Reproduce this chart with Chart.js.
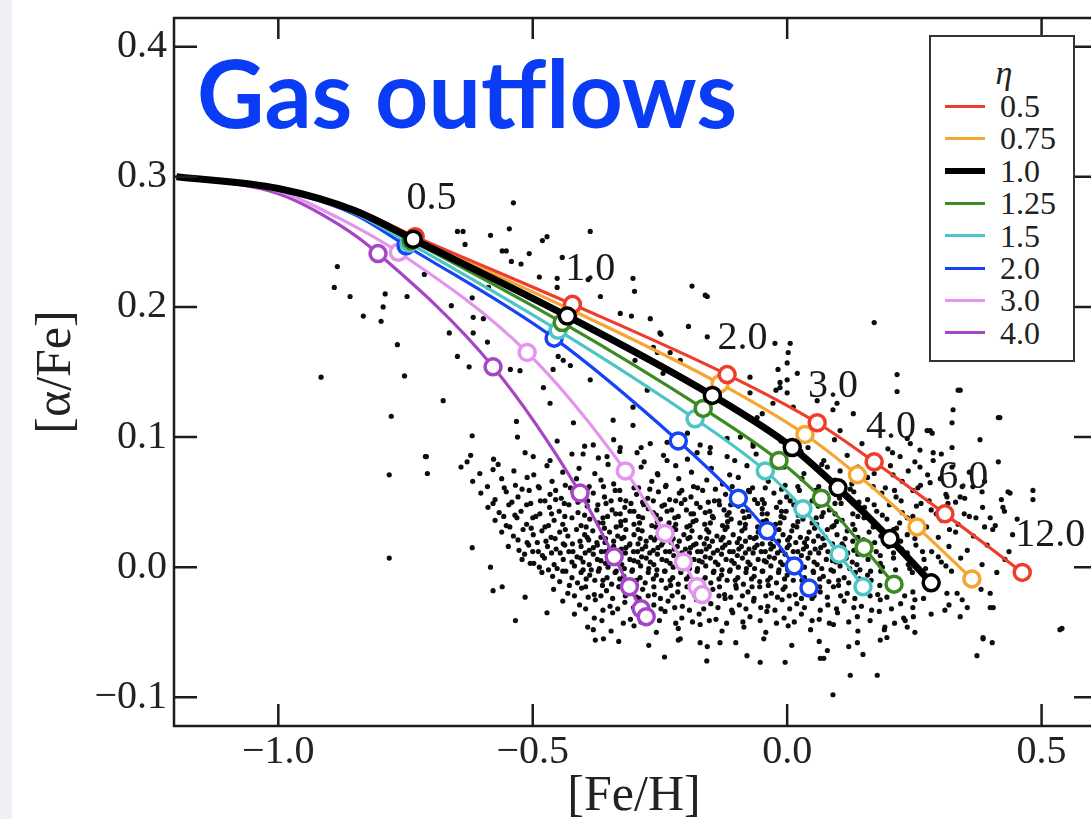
<!DOCTYPE html>
<html lang="en">

<head>
    <meta charset="UTF-8">
    <title>Gas outflows</title>
    <script src="https://cdn.jsdelivr.net/npm/chart.js"></script>
    <style>
        body {
            margin: 0;
            background: #fff;
        }

        .wrap {
            position: relative;
            width: 1091px;
            height: 819px;
            overflow: hidden;
        }

        .strip {
            position: absolute;
            left: 0;
            top: 0;
            width: 12px;
            height: 819px;
            background: #eef0f4;
        }

        canvas {
            position: absolute;
            left: 0;
            top: 0;
        }

        .headline {
            position: absolute;
            left: 197px;
            top: 46px;
            font: 700 93px/92px Lato, sans-serif;
            color: #0a3bf5;
            white-space: nowrap;
        }

        .legend {
            position: absolute;
            left: 929px;
            top: 35px;
            width: 142px;
            height: 323px;
            border: 2px solid #333;
            background: #fff;
            font-family: 'Liberation Serif', 'Times New Roman', serif;
            color: #222;
        }

        .legend .head {
            position: absolute;
            left: 0;
            width: 142px;
            top: 20px;
            padding-left: 2px;
            text-align: center;
            font-style: italic;
            font-size: 34px;
            line-height: 32px;
        }

        .legend .row {
            position: absolute;
            left: 14px;
            height: 30px;
            display: flex;
            align-items: center;
            font-size: 32px;
            line-height: 30px;
        }

        .legend .swatch {
            width: 40px;
            margin-right: 15px;
        }
    </style>
</head>

<body>
    <div class="wrap">
        <div class="strip"></div>
        <canvas id="outflowChart" width="1096" height="819"></canvas>
        <div class="headline">Gas outflows</div>
        <div class="legend" id="legend">
            <div class="head">η</div>
        </div>
    </div>

    <script>
        // outflow efficiencies and their colours
        const etas = ['0.5', '0.75', '1.0', '1.25', '1.5', '2.0', '3.0', '4.0'];
        const etaColors = ['#ef3d2d', '#f5a530', '#000000', '#3c8a22', '#4dc4c6', '#1444f5', '#e395ee', '#a646c7'];

        // ages (Gyr) marked with open circles = last 7 points of every track
        const ages = [0.5, 1, 2, 3, 4, 6, 12];

        // tracks: first points follow the curve from the start, then the age markers
        const fe05 = [-1.2, -1.0, -0.85, -0.731, -0.422, -0.118, 0.059, 0.171, 0.310, 0.462];
        const al05 = [0.300, 0.291, 0.275, 0.254, 0.202, 0.148, 0.111, 0.081, 0.041, -0.004];
        const fe075 = [-1.2, -1.0, -0.85, -0.733, -0.426, -0.132, 0.035, 0.138, 0.255, 0.363];
        const al075 = [0.300, 0.291, 0.274, 0.253, 0.198, 0.141, 0.102, 0.071, 0.031, -0.009];
        const fe10 = [-1.2, -1.0, -0.85, -0.735, -0.432, -0.147, 0.010, 0.100, 0.202, 0.283];
        const al10 = [0.300, 0.291, 0.274, 0.252, 0.193, 0.132, 0.092, 0.061, 0.022, -0.012];
        const fe125 = [-1.2, -1.0, -0.85, -0.739, -0.442, -0.165, -0.016, 0.067, 0.151, 0.210];
        const al125 = [0.300, 0.291, 0.273, 0.251, 0.188, 0.122, 0.082, 0.053, 0.015, -0.013];
        const fe15 = [-1.2, -1.0, -0.85, -0.743, -0.450, -0.181, -0.043, 0.031, 0.102, 0.149];
        const al15 = [0.300, 0.290, 0.272, 0.249, 0.182, 0.114, 0.074, 0.045, 0.010, -0.015];
        const fe20 = [-1.2, -1.0, -0.85, -0.749, -0.458, -0.214, -0.096, -0.039, 0.014, 0.043];
        const al20 = [0.300, 0.290, 0.271, 0.247, 0.176, 0.097, 0.053, 0.028, 0.001, -0.016];
        const fe30 = [-1.2, -1.0, -0.88, -0.764, -0.511, -0.318, -0.240, -0.204, -0.177, -0.167];
        const al30 = [0.300, 0.289, 0.268, 0.242, 0.165, 0.074, 0.026, 0.004, -0.015, -0.021];
        const fe40 = [-1.2, -1.0, -0.88, -0.804, -0.578, -0.407, -0.340, -0.310, -0.287, -0.277];
        const al40 = [0.300, 0.287, 0.263, 0.241, 0.154, 0.057, 0.008, -0.015, -0.032, -0.038];

        const trackFeH = [fe05, fe075, fe10, fe125, fe15, fe20, fe30, fe40];
        const trackAlpha = [al05, al075, al10, al125, al15, al20, al30, al40];

        // age labels along the eta = 0.5 track
        const ageText = ['0.5', '1.0', '2.0', '3.0', '4.0', '6.0', '12.0'];
        const ageFeH = [-0.699, -0.387, -0.088, 0.090, 0.204, 0.346, 0.517];
        const ageAlpha = [0.285, 0.231, 0.178, 0.141, 0.109, 0.071, 0.026];

        const xTicks = [-1.0, -0.5, 0.0, 0.5];
        const yTicks = [-0.1, 0.0, 0.1, 0.2, 0.3, 0.4];

        // observed stars [Fe/H, alpha/Fe]
        const stars = [
            // sparse upper part
            [-.538,.280],[-.648,.258],[-.637,.258],[-.546,.260],[-.583,.255],[-.387,.258],[-.472,.254],[-.481,.251],[-.633,.248],[-.560,.243],
            [-.552,.243],[-.507,.241],[-.542,.235],[-.523,.233],[-.884,.231],[-.713,.225],[-.487,.223],[-.452,.222],[-.890,.215],[-.587,.215],
            [-.859,.208],[-.790,.210],[-.747,.208],[-.619,.207],[-.660,.201],[-.794,.200],[-.833,.193],[-.798,.189],[-.617,.192],[-.597,.191],
            [-.664,.180],[-.617,.180],[-.589,.173],[-.766,.171],[-.648,.162],[-.544,.152],[-.525,.151],[-.625,.154],[-.916,.146],[-.752,.147],
            [-.450,.162],[-.440,.159],[-.426,.155],[-.387,.144],[-.460,.152],[-.479,.138],[-.676,.128],[-.466,.126],[-.778,.116],[-.532,.112],
            [-.420,.111],[-.619,.101],[-.530,.100],[-.381,.094],[-.711,.085],[-.401,.087],[-.354,.085],[-.499,.085],
            [-.303,.222],[-.300,.212],[-.187,.216],[-.157,.208],[-.306,.193],[-.269,.191],[-.248,.179],[-.194,.185],[-.157,.177],[.171,.188],
            [.006,.172],[-.024,.172],[.002,.165],[-.018,.152],[-.073,.146],[.000,.144],[-.022,.136],[.216,.148],[.216,.135],[.340,.136],
            [.326,.121],[.418,.115],[.059,.128],[.098,.126],[.130,.118],[-.263,.169],[-.230,.165],[-.210,.159],[-.299,.159],[-.275,.136],
            [-.303,.123],[-.244,.149],[-.452,.215],[-.442,.238],[-.391,.221],[-.367,.208],[-.161,.209],[-.328,.195],[-.250,.180],[-.255,.165],
            [-.049,.118],[-.342,.113],[-.303,.109],[-.328,.092],[-.269,.095],[-.295,.088],[-.236,.082],[-.255,.072],[-.177,.088],[-.151,.092],
            [-.118,.085],[-.196,.103],[-.092,.100],[-.059,.115],[-.073,.134],[-.014,.138],[-.028,.126],[.012,.123],[.000,.157],[.020,.149],
            [.090,.121],[.104,.105],[.079,.077],[-.067,.095],
            // right wing and outskirts
            [-.014,.142],[.000,.134],[.336,.136],[.415,.115],[.379,.098],[.281,.105],[.324,.092],[.287,.082],[.261,.090],[.438,.057],
            [.483,.059],[.540,-.047],[.385,-.054],[.354,-.031],[.399,-.031],[.324,.111],[.415,.081],[.483,.052],[.536,-.048],[.399,-.020],
            [.405,-.031],[.373,-.068],[.385,-.055],[.310,-.033],[.344,-.025],[.124,-.083],[.177,-.083],[.090,-.098],[.065,-.070],[.079,-.064],
            [.138,-.058],[.196,-.054],[.236,-.046],[.248,-.038],[.251,-.025],[.287,-.015],[.314,-.020],[.340,-.038],[.434,.058],[.424,.046],
            [.399,.038],[.365,.062],[.340,.054],[.314,.054],[.281,.065],[.261,.077],[.287,.088],[.242,.095],[.222,.085],[.208,.071],
            [.275,.105],[.285,.103],[.403,-.058],[.232,-.041],[.191,-.048],
            [-.629,.081],[-.578,.075],[-.619,.015],[-.583,.000],[-.578,-.018],[-.534,-.041],[-.472,-.035],[-.381,-.048],[-.377,-.056],[-.361,-.055],
            [-.210,-.055],[-.171,-.058],[-.132,-.058],[-.053,-.073],[-.515,-.023],[-.505,.003],[-.782,.071],[-.709,.085],[-.707,.072],[-.782,.007],
            [-.560,-.015],
            // main cloud
            [-.452,.097],[-.398,.093],[-.341,.098],[-.287,.092],[-.236,.096],[-.171,.094],[-.118,.099],[-.067,.093],[-.012,.097],[.041,.092],
            [.093,.098],[.147,.095],[.198,.091],[.236,.099],
            [-.622,.086],[-.577,.083],[-.515,.088],[-.466,.082],[-.423,.087],[-.371,.084],[-.329,.089],[-.281,.081],[-.243,.086],[-.196,.083],
            [-.152,.088],[-.103,.082],[-.061,.087],[-.018,.084],[.027,.089],[.072,.082],[.118,.086],[.163,.083],[.207,.088],[.251,.081],[.303,.087],
            [-.641,.077],[-.604,.072],[-.568,.079],[-.537,.074],[-.498,.071],[-.472,.078],[-.441,.073],[-.409,.076],[-.378,.072],[-.352,.079],
            [-.318,.074],[-.287,.077],[-.254,.071],[-.219,.078],[-.188,.073],[-.149,.076],[-.113,.071],[-.079,.078],[-.041,.074],[-.006,.077],
            [.033,.072],[.068,.079],[.104,.074],[.139,.077],[.171,.072],[.203,.078],[.238,.074],[.276,.071],[.324,.077],[.358,.073],
            [-.618,.066],[-.589,.062],[-.561,.068],[-.534,.063],[-.511,.069],[-.487,.061],[-.462,.066],[-.436,.063],[-.414,.068],[-.389,.062],
            [-.366,.067],[-.341,.064],[-.315,.069],[-.292,.061],[-.266,.066],[-.238,.063],[-.213,.068],[-.184,.062],[-.158,.067],[-.127,.064],
            [-.096,.069],[-.068,.061],[-.037,.066],[-.004,.063],[.029,.068],[.062,.062],[.094,.067],[.127,.064],[.158,.069],[.193,.061],
            [.226,.066],[.262,.063],[.301,.068],[.344,.062],[.388,.066],
            [-.556,.061],[-.521,.060],[-.489,.062],[-.455,.059],[-.426,.061],[-.393,.060],[-.361,.062],[-.329,.059],[-.301,.061],[-.270,.060],
            [-.239,.062],[-.207,.059],[-.176,.061],[-.141,.060],[-.108,.062],[-.076,.059],[-.043,.061],[-.011,.060],[.021,.062],[.056,.059],
            [.091,.061],[.124,.060],[.169,.062],[.211,.059],[.257,.061],
            [-.602,.057],[-.574,.052],[-.552,.058],[-.529,.054],[-.507,.059],[-.485,.051],[-.466,.056],[-.444,.053],[-.421,.058],[-.402,.052],
            [-.381,.057],[-.359,.054],[-.338,.059],[-.317,.051],[-.296,.056],[-.274,.053],[-.253,.058],[-.231,.052],[-.212,.057],[-.189,.054],
            [-.166,.059],[-.143,.051],[-.121,.056],[-.097,.053],[-.074,.058],[-.049,.052],[-.026,.057],[-.001,.054],[.024,.059],[.049,.051],
            [.076,.056],[.103,.053],[.131,.058],[.158,.052],[.186,.057],[.214,.054],[.247,.059],[.279,.051],[.312,.056],[.349,.053],[.383,.058],[.421,.052],
            [-.455,.052],[-.392,.051],[-.328,.052],[-.263,.051],[-.201,.052],[-.134,.051],[-.064,.052],[.006,.051],
            [-.578,.049],[-.541,.050],[-.512,.048],[-.476,.051],[-.438,.049],[-.411,.050],[-.372,.048],[-.346,.051],[-.307,.049],[-.284,.050],
            [-.241,.048],[-.219,.051],[-.178,.049],[-.155,.050],[-.111,.048],[-.088,.051],[-.045,.049],[-.014,.050],[.013,.048],[.058,.051],
            [.094,.049],[.141,.050],[.171,.048],[.224,.051],[.263,.049],[.331,.050],
            [-.588,.046],[-.566,.042],[-.547,.048],[-.523,.043],[-.504,.049],[-.486,.041],[-.467,.046],[-.448,.043],[-.429,.048],[-.411,.042],
            [-.393,.047],[-.374,.044],[-.356,.049],[-.337,.041],[-.319,.046],[-.301,.043],[-.282,.048],[-.263,.042],[-.246,.047],[-.227,.044],
            [-.208,.049],[-.189,.041],[-.171,.046],[-.152,.043],[-.133,.048],[-.114,.042],[-.096,.047],[-.077,.044],[-.058,.049],[-.039,.041],
            [-.021,.046],[-.002,.043],[.018,.048],[.039,.042],[.061,.047],[.083,.044],[.106,.049],[.129,.041],[.152,.046],[.176,.043],
            [.201,.048],[.226,.042],[.254,.047],[.283,.044],[.316,.049],[.348,.041],[.384,.046],[.427,.043],
            [-.344,.044],[-.309,.043],[-.273,.045],[-.236,.043],[-.198,.044],[-.161,.042],[-.124,.044],[-.087,.043],[-.049,.045],[-.011,.043],
            [.028,.044],[.071,.042],
            [-.557,.039],[-.535,.040],[-.500,.038],[-.463,.041],[-.437,.039],[-.398,.040],[-.362,.038],[-.328,.041],[-.292,.039],[-.257,.040],
            [-.221,.038],[-.184,.041],[-.147,.039],[-.118,.040],[-.084,.038],[-.049,.041],[-.012,.039],[.022,.040],[.057,.038],[.094,.041],
            [.139,.039],[.187,.040],[.236,.038],[.293,.041],[.358,.039],
            [-.574,.036],[-.552,.032],[-.531,.038],[-.512,.033],[-.494,.039],[-.476,.031],[-.458,.036],[-.441,.033],[-.423,.038],[-.405,.032],
            [-.388,.037],[-.371,.034],[-.353,.039],[-.336,.031],[-.318,.036],[-.301,.033],[-.284,.038],[-.266,.032],[-.249,.037],[-.232,.034],
            [-.214,.039],[-.197,.031],[-.179,.036],[-.162,.033],[-.145,.038],[-.127,.032],[-.110,.037],[-.093,.034],[-.075,.039],[-.058,.031],
            [-.041,.036],[-.023,.033],[-.006,.038],[.012,.032],[.031,.037],[.049,.034],[.068,.039],[.088,.031],[.108,.036],[.129,.033],
            [.151,.038],[.173,.032],[.196,.037],[.221,.034],[.247,.039],[.274,.031],[.304,.036],[.336,.033],[.371,.038],[.409,.032],[.452,.037],
            [-.362,.034],[-.327,.035],[-.290,.034],[-.255,.035],[-.219,.033],[-.185,.035],[-.151,.034],[-.117,.035],[-.082,.033],[-.048,.035],
            [-.014,.034],[.021,.035],[.058,.033],[.097,.035],
            [-.545,.031],[-.503,.030],[-.469,.032],[-.436,.029],[-.395,.031],[-.359,.030],[-.327,.032],[-.293,.029],[-.258,.031],[-.224,.030],
            [-.191,.032],[-.158,.029],[-.118,.031],[-.083,.030],[-.049,.032],[-.016,.029],[.019,.031],[.054,.030],[.092,.032],[.133,.029],
            [.169,.031],[.215,.030],[.259,.032],[.319,.029],[.388,.031],
            [-.561,.027],[-.538,.024],[-.519,.029],[-.499,.025],[-.482,.028],[-.464,.023],[-.447,.027],[-.431,.024],[-.414,.029],[-.398,.025],
            [-.382,.028],[-.366,.023],[-.349,.027],[-.333,.024],[-.317,.029],[-.301,.025],[-.285,.028],[-.268,.023],[-.252,.027],[-.236,.024],
            [-.219,.029],[-.203,.025],[-.187,.028],[-.171,.023],[-.154,.027],[-.138,.024],[-.122,.029],[-.106,.025],[-.089,.028],[-.073,.023],
            [-.057,.027],[-.041,.024],[-.024,.029],[-.008,.025],[.009,.028],[.026,.023],[.043,.027],[.061,.024],[.079,.029],[.098,.025],
            [.118,.028],[.139,.023],[.161,.027],[.184,.024],[.209,.029],[.236,.025],[.266,.028],[.297,.023],[.331,.027],[.366,.024],[.404,.029],[.443,.025],
            [-.393,.023],[-.357,.022],[-.321,.023],[-.289,.022],[-.256,.023],[-.224,.022],[-.191,.023],[-.158,.022],[-.126,.023],[-.094,.022],
            [-.061,.023],[-.029,.022],[.005,.023],[.039,.022],[.075,.023],[.114,.022],
            [-.529,.021],[-.491,.019],[-.456,.022],[-.422,.018],[-.390,.021],[-.358,.019],[-.325,.022],[-.293,.018],[-.261,.021],[-.228,.019],
            [-.195,.022],[-.163,.018],[-.130,.021],[-.098,.019],[-.065,.022],[-.033,.018],[.001,.021],[.034,.019],[.070,.022],[.108,.018],
            [.150,.021],[.196,.019],[.251,.022],
            [-.511,.019],[-.474,.020],[-.440,.018],[-.407,.020],[-.374,.019],[-.341,.020],[-.309,.018],[-.277,.020],[-.244,.019],[-.212,.020],
            [-.179,.018],[-.147,.020],[-.114,.019],[-.082,.020],[-.049,.018],[-.017,.020],[.017,.019],[.052,.020],[.089,.018],[.129,.020],
            [.172,.019],[.223,.020],
            [-.548,.016],[-.527,.013],[-.508,.017],[-.489,.012],[-.471,.016],[-.454,.014],[-.437,.017],[-.421,.012],[-.405,.016],[-.389,.013],
            [-.373,.017],[-.357,.012],[-.341,.016],[-.326,.014],[-.310,.017],[-.294,.012],[-.278,.016],[-.263,.013],[-.247,.017],[-.231,.012],
            [-.216,.016],[-.200,.014],[-.184,.017],[-.169,.012],[-.153,.016],[-.137,.013],[-.122,.017],[-.106,.012],[-.090,.016],[-.075,.014],
            [-.059,.017],[-.043,.012],[-.027,.016],[-.012,.013],[.004,.017],[.021,.012],[.038,.016],[.055,.014],[.073,.017],[.092,.012],
            [.111,.016],[.131,.013],[.152,.017],[.175,.012],[.199,.016],[.225,.014],[.253,.017],[.284,.012],[.318,.016],[.354,.013],[.393,.017],[.436,.012],
            [-.381,.015],[-.349,.014],[-.317,.015],[-.285,.014],[-.254,.015],[-.222,.014],[-.190,.015],[-.159,.014],[-.127,.015],[-.095,.014],
            [-.064,.015],[-.032,.014],[.000,.015],[.032,.014],[.066,.015],[.102,.014],
            [-.500,.012],[-.463,.011],[-.429,.012],[-.397,.011],[-.365,.012],[-.333,.011],[-.302,.012],[-.270,.011],[-.239,.012],[-.207,.011],
            [-.176,.012],[-.145,.011],[-.113,.012],[-.082,.011],[-.051,.012],[-.019,.011],[.012,.012],[.045,.011],[.080,.012],[.119,.011],
            [.161,.012],[.209,.011],[.266,.012],
            [-.516,.010],[-.481,.009],[-.446,.011],[-.413,.008],[-.381,.010],[-.349,.009],[-.318,.011],[-.286,.008],[-.255,.010],[-.223,.009],
            [-.192,.011],[-.161,.008],[-.129,.010],[-.098,.009],[-.067,.011],[-.035,.008],[-.004,.010],[.028,.009],[.062,.011],[.099,.008],
            [.139,.010],[.183,.009],[.236,.011],[.297,.008],
            [-.521,.006],[-.498,.003],[-.477,.007],[-.458,.002],[-.440,.006],[-.423,.004],[-.406,.007],[-.389,.002],[-.373,.006],[-.357,.003],
            [-.341,.007],[-.325,.002],[-.309,.006],[-.293,.004],[-.277,.007],[-.262,.002],[-.246,.006],[-.230,.003],[-.214,.007],[-.199,.002],
            [-.183,.006],[-.167,.004],[-.151,.007],[-.136,.002],[-.120,.006],[-.104,.003],[-.088,.007],[-.073,.002],[-.057,.006],[-.041,.004],
            [-.025,.007],[-.009,.002],[.007,.006],[.024,.003],[.041,.007],[.059,.002],[.077,.006],[.096,.004],[.116,.007],[.137,.002],
            [.159,.006],[.183,.003],[.209,.007],[.238,.002],[.269,.006],[.303,.004],[.341,.007],[.383,.002],[.428,.006],
            [-.401,.004],[-.366,.005],[-.333,.004],[-.301,.005],[-.269,.004],[-.237,.005],[-.205,.004],[-.173,.005],[-.141,.004],[-.109,.005],
            [-.077,.004],[-.045,.005],[-.013,.004],[.019,.005],[.053,.004],[.089,.005],[.128,.004],
            [-.487,.000],[-.452,-.001],[-.418,.001],[-.385,-.002],[-.352,.000],[-.320,-.001],[-.288,.001],[-.256,-.002],[-.224,.000],[-.192,-.001],
            [-.160,.001],[-.128,-.002],[-.096,.000],[-.064,-.001],[-.032,.001],[.001,-.002],[.034,.000],[.068,-.001],[.104,.001],[.143,-.002],
            [.187,.000],[.241,-.001],[.312,.001],
            [-.469,-.002],[-.435,-.003],[-.401,-.002],[-.369,-.001],[-.336,-.003],[-.304,-.002],[-.272,-.001],[-.240,-.003],[-.208,-.002],[-.176,-.001],
            [-.144,-.003],[-.112,-.002],[-.080,-.001],[-.048,-.003],[-.016,-.002],[.017,-.001],[.051,-.003],[.086,-.002],[.123,-.001],[.164,-.003],
            [.213,-.002],[.272,-.001],
            [-.482,-.004],[-.461,-.007],[-.441,-.003],[-.423,-.008],[-.405,-.004],[-.388,-.006],[-.371,-.003],[-.354,-.008],[-.338,-.004],[-.321,-.007],
            [-.305,-.003],[-.289,-.008],[-.273,-.004],[-.257,-.006],[-.241,-.003],[-.225,-.008],[-.209,-.004],[-.193,-.007],[-.177,-.003],[-.161,-.008],
            [-.145,-.004],[-.129,-.006],[-.113,-.003],[-.097,-.008],[-.081,-.004],[-.065,-.007],[-.049,-.003],[-.033,-.008],[-.017,-.004],[.000,-.006],
            [.017,-.003],[.034,-.008],[.052,-.004],[.071,-.007],[.091,-.003],[.112,-.008],[.134,-.004],[.158,-.006],[.184,-.003],[.213,-.008],
            [.246,-.004],[.282,-.007],[.323,-.003],[.368,-.008],[.412,-.004],
            [-.395,-.009],[-.362,-.010],[-.329,-.009],[-.296,-.010],[-.263,-.009],[-.230,-.010],[-.198,-.009],[-.166,-.010],[-.134,-.009],[-.102,-.010],
            [-.070,-.009],[-.038,-.010],[-.005,-.009],[.029,-.010],[.064,-.009],[.101,-.010],[.142,-.009],
            [-.447,-.011],[-.412,-.012],[-.378,-.010],[-.345,-.013],[-.312,-.011],[-.279,-.012],[-.247,-.010],[-.214,-.013],[-.182,-.011],[-.150,-.012],
            [-.118,-.010],[-.086,-.013],[-.054,-.011],[-.021,-.012],[.012,-.010],[.046,-.013],[.082,-.011],[.121,-.012],[.165,-.010],[.219,-.013],
            [-.428,-.014],[-.396,-.015],[-.363,-.014],[-.329,-.015],[-.296,-.014],[-.262,-.015],[-.229,-.014],[-.197,-.015],[-.165,-.014],[-.133,-.015],
            [-.101,-.014],[-.069,-.015],[-.037,-.014],[-.004,-.015],[.030,-.014],[.064,-.015],[.101,-.014],[.139,-.015],[.182,-.014],
            [-.459,-.017],[-.431,-.020],[-.404,-.016],[-.379,-.021],[-.355,-.018],[-.331,-.015],[-.307,-.020],[-.284,-.017],[-.261,-.021],[-.238,-.016],
            [-.215,-.019],[-.192,-.015],[-.169,-.020],[-.146,-.017],[-.123,-.021],[-.100,-.016],[-.077,-.019],[-.054,-.015],[-.031,-.020],[-.008,-.017],
            [.016,-.021],[.040,-.016],[.065,-.019],[.091,-.015],[.118,-.020],[.147,-.017],[.178,-.021],[.211,-.016],[.247,-.019],[.288,-.015],[.334,-.020],[.381,-.017],
            [-.418,-.022],[-.391,-.023],[-.366,-.022],[-.343,-.024],[-.318,-.022],[-.296,-.023],[-.273,-.022],[-.249,-.024],[-.226,-.022],[-.204,-.023],
            [-.181,-.022],[-.157,-.024],[-.134,-.022],[-.111,-.023],[-.088,-.022],[-.065,-.024],[-.042,-.022],[-.019,-.023],[.004,-.022],[.028,-.024],
            [.053,-.022],[.079,-.023],[.105,-.022],[.133,-.024],[.163,-.022],[.196,-.023],[.231,-.022],
            [-.441,-.026],[-.408,-.029],[-.377,-.025],[-.348,-.030],[-.319,-.027],[-.291,-.024],[-.262,-.029],[-.234,-.026],[-.206,-.030],[-.178,-.025],
            [-.150,-.028],[-.122,-.024],[-.094,-.029],[-.066,-.026],[-.038,-.030],[-.010,-.025],[.019,-.028],[.049,-.024],[.080,-.029],[.112,-.026],
            [.146,-.030],[.183,-.025],[.223,-.028],[.268,-.024],[.318,-.029],
            [-.396,-.032],[-.362,-.033],[-.333,-.032],[-.302,-.031],[-.276,-.033],[-.248,-.032],[-.221,-.031],[-.192,-.033],[-.164,-.032],[-.136,-.031],
            [-.109,-.033],[-.081,-.032],[-.052,-.031],[-.024,-.033],[.005,-.032],[.034,-.031],[.065,-.033],[.097,-.032],[.131,-.031],[.166,-.033],
            [.205,-.032],[.247,-.031],
            [-.418,-.036],[-.379,-.039],[-.343,-.035],[-.308,-.040],[-.274,-.037],[-.240,-.034],[-.207,-.039],[-.173,-.036],[-.140,-.040],[-.107,-.035],
            [-.073,-.038],[-.040,-.034],[-.006,-.039],[.028,-.036],[.063,-.040],[.099,-.035],[.138,-.038],[.181,-.034],[.229,-.039],[.283,-.036],
            [-.364,-.041],[-.322,-.043],[-.287,-.042],[-.251,-.041],[-.219,-.043],[-.186,-.042],[-.153,-.041],[-.119,-.043],[-.087,-.042],[-.053,-.041],
            [-.021,-.043],[.014,-.042],[.049,-.041],[.083,-.043],[.121,-.042],[.163,-.041],[.211,-.043],
            [-.392,-.046],[-.346,-.049],[-.301,-.045],[-.257,-.050],[-.214,-.047],[-.171,-.044],[-.128,-.049],[-.085,-.046],[-.042,-.050],[.002,-.045],
            [.046,-.048],[.091,-.044],[.139,-.049],[.192,-.046],[.251,-.050],
            [-.331,-.057],[-.272,-.060],[-.214,-.056],[-.157,-.061],[-.101,-.058],[-.046,-.055],[.009,-.060],[.063,-.057],[.121,-.061],[.183,-.056],
            [-.241,-.069],[-.158,-.072],[-.079,-.068],[-.004,-.073],[.072,-.070],[.149,-.067]
        ];

        // black eta = 1.0 line sits on top, stars at the bottom
        const drawOrder = [1, 2, 0, 3, 4, 5, 6, 7];

        const serif = "'Liberation Serif', 'Times New Roman', serif";
        const fmt = v => (v < 0 ? '\u2212' : '') + Math.abs(v).toFixed(1);

        // legend
        const legend = document.getElementById('legend');
        etas.forEach((eta, i) => {
            const row = document.createElement('div');
            row.className = 'row';
            row.style.top = (54 + i * 32.4) + 'px';
            const sw = document.createElement('div');
            sw.className = 'swatch';
            sw.style.height = eta === '1.0' ? '6px' : '3px';
            sw.style.background = etaColors[i];
            row.appendChild(sw);
            row.appendChild(document.createTextNode(eta));
            legend.appendChild(row);
        });

        const trackSets = etas.map((eta, i) => ({
            label: 'η = ' + eta,
            data: trackFeH[i].map((v, j) => ({ x: v, y: trackAlpha[i][j] })),
            showLine: true,
            borderColor: etaColors[i],
            borderWidth: eta === '1.0' ? 7 : 3.2,
            cubicInterpolationMode: 'monotone',
            pointRadius: ctx => ctx.dataIndex >= trackFeH[i].length - ages.length ? 8 : 0,
            pointBorderWidth: 3.5,
            pointBorderColor: etaColors[i],
            pointBackgroundColor: '#fff',
            order: drawOrder[i]
        }));

        const starSet = {
            label: 'stars',
            data: stars.map(s => ({ x: s[0], y: s[1] })),
            pointRadius: 2.6,
            pointBorderWidth: 0,
            pointBackgroundColor: '#0d0d0d',
            showLine: false,
            order: 20
        };

        // box, inward ticks and age labels
        const framePlugin = {
            id: 'frame',
            afterDatasetsDraw(chart) {
                const { ctx, chartArea: a, scales: { x, y } } = chart;
                ctx.save();
                ctx.strokeStyle = '#1c1c1c';
                ctx.lineWidth = 2.5;
                ctx.strokeRect(a.left, a.top, a.right - a.left, a.bottom - a.top);
                ctx.beginPath();
                xTicks.forEach(v => {
                    const px = x.getPixelForValue(v);
                    ctx.moveTo(px, a.bottom);
                    ctx.lineTo(px, a.bottom - 22);
                    ctx.moveTo(px, a.top);
                    ctx.lineTo(px, a.top + 21);
                });
                yTicks.forEach(v => {
                    const py = y.getPixelForValue(v);
                    ctx.moveTo(a.left, py);
                    ctx.lineTo(a.left + 23, py);
                    ctx.moveTo(a.right, py);
                    ctx.lineTo(a.right - 20, py);
                });
                ctx.stroke();

                ctx.fillStyle = '#1a1a1a';
                ctx.font = '40px ' + serif;
                ctx.textAlign = 'center';
                ctx.textBaseline = 'alphabetic';
                ageText.forEach((t, i) => {
                    ctx.fillText(t, x.getPixelForValue(ageFeH[i]), y.getPixelForValue(ageAlpha[i]) + 13);
                });
                ctx.restore();
            }
        };

        const ctx = document.getElementById('outflowChart').getContext('2d');
        const chart = new Chart(ctx, {
            type: 'scatter',
            data: { datasets: [...trackSets, starSet] },
            options: {
                responsive: false,
                animation: false,
                layout: {
                    autoPadding: false,
                    padding: { top: 18, right: 2, left: 0, bottom: 0 }
                },
                plugins: {
                    legend: { display: false },
                    tooltip: { enabled: false }
                },
                scales: {
                    x: {
                        type: 'linear',
                        min: -1.205,
                        max: 0.603,
                        afterFit: s => {
                            s.height = 93;
                            s.paddingLeft = 0;
                            s.paddingRight = 0;
                        },
                        afterBuildTicks: s => { s.ticks = xTicks.map(v => ({ value: v })); },
                        grid: { display: false, drawTicks: false },
                        border: { display: false },
                        ticks: {
                            color: '#222',
                            padding: 2,
                            maxRotation: 0,
                            font: { family: serif, size: 40 },
                            callback: v => fmt(v)
                        },
                        title: {
                            display: true,
                            text: '[Fe/H]',
                            color: '#222',
                            padding: { top: 0, bottom: 0 },
                            font: { family: serif, size: 50, lineHeight: 0.9 }
                        }
                    },
                    y: {
                        type: 'linear',
                        min: -0.122,
                        max: 0.422,
                        afterFit: s => {
                            s.width = 174;
                            s.paddingTop = 0;
                            s.paddingBottom = 0;
                        },
                        afterBuildTicks: s => { s.ticks = yTicks.map(v => ({ value: v })); },
                        grid: { display: false, drawTicks: false },
                        border: { display: false },
                        ticks: {
                            color: '#222',
                            padding: 7,
                            font: { family: serif, size: 40 },
                            callback: v => fmt(v)
                        },
                        title: {
                            display: true,
                            text: '[α/Fe]',
                            color: '#222',
                            padding: { top: 32, bottom: 0 },
                            font: { family: serif, size: 50, lineHeight: 1 }
                        }
                    }
                }
            },
            plugins: [framePlugin]
        });
    </script>
</body>

</html>
